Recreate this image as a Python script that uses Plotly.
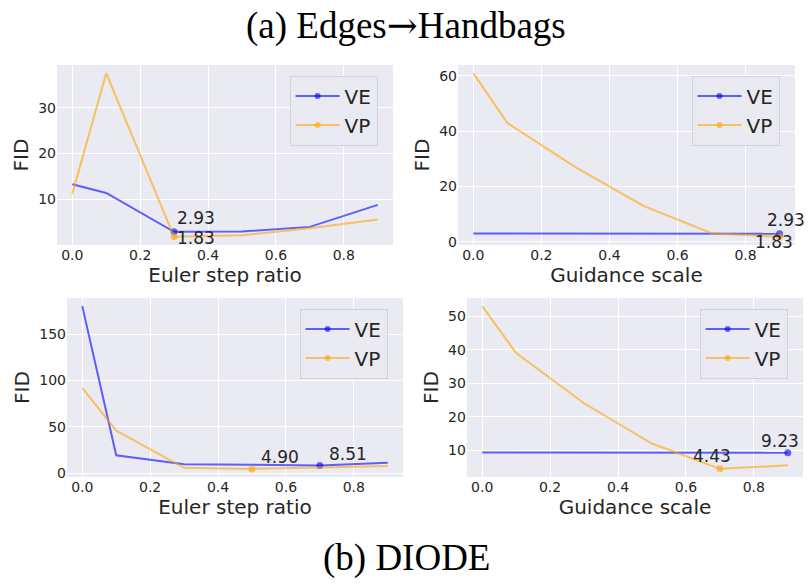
import plotly.graph_objects as go

# === Datos ===
x_ratio = [0.0, 0.1, 0.3, 0.5, 0.7, 0.9]
x_scale = [0.0, 0.1, 0.3, 0.5, 0.7, 0.9]

# (a) Edges->Handbags
a_euler_ve = [13.3, 11.4, 2.93, 3.0, 4.0, 8.8]
a_euler_vp = [11.2, 37.5, 1.83, 2.2, 3.7, 5.6]
a_guid_ve = [3.0, 3.0, 3.0, 3.0, 3.0, 2.93]
a_guid_vp = [61.0, 43.0, 27.0, 13.0, 3.1, 1.83]

# (b) DIODE
b_euler_ve = [180.0, 19.5, 10.0, 9.5, 8.51, 11.5]
b_euler_vp = [92.0, 46.0, 6.0, 4.90, 6.5, 8.0]
b_guid_ve = [9.3, 9.3, 9.3, 9.35, 9.4, 9.23]
b_guid_vp = [53.0, 39.0, 24.0, 12.0, 4.43, 5.5]

BLUE = "rgba(0,0,255,0.6)"
ORANGE = "rgba(255,165,0,0.6)"
TXT = "#262626"
BG = "#EAEAF2"

paneles = [
    # x, ve, vp, xlabel, yrange, yticks, domx, domy
    (x_ratio, a_euler_ve, a_euler_vp, "Euler step ratio", [0.05, 39.3], [10, 20, 30],
     [0.0702, 0.484], [0.5805, 0.8887]),
    (x_scale, a_guid_ve, a_guid_vp, "Guidance scale", [-1.13, 63.96], [0, 20, 40, 60],
     [0.564, 0.979], [0.5805, 0.8887]),
    (x_ratio, b_euler_ve, b_euler_vp, "Euler step ratio", [-3.85, 188.75], [0, 50, 100, 150],
     [0.0825, 0.4963], [0.1832, 0.4897]),
    (x_scale, b_guid_ve, b_guid_vp, "Guidance scale", [2.0, 55.4], [10, 20, 30, 40, 50],
     [0.575, 0.989], [0.1832, 0.4897]),
]

# (panel, serie, xshift, yshift, xanchor)
etiquetas = [
    (0, "ve", 1, 14, "left"), (0, "vp", 1, -1, "left"),
    (1, "ve", 6, 14, "center"), (1, "vp", -6, -5, "center"),
    (2, "vp", 7, 12, "left"), (2, "ve", 7, 12, "left"),
    (3, "vp", -8, 13, "center"), (3, "ve", -8, 12, "center"),
]

fig = go.Figure()
layout = {}
for i, (xs, ve, vp, xlab, yr, yt, dx, dy) in enumerate(paneles):
    n = "" if i == 0 else str(i + 1)
    leg = "legend" + n
    for nombre, ys, col in (("VE", ve, BLUE), ("VP", vp, ORANGE)):
        best = ys.index(min(ys))
        fig.add_trace(go.Scatter(
            x=xs, y=ys, mode="lines", name=nombre,
            line=dict(color=col, width=2),
            xaxis="x" + n, yaxis="y" + n, showlegend=False,
        ))
        fig.add_trace(go.Scatter(
            x=[xs[best]], y=[ys[best]], mode="markers", name=nombre,
            marker=dict(color=col, size=7),
            xaxis="x" + n, yaxis="y" + n, showlegend=False,
        ))
        # entrada de leyenda
        fig.add_trace(go.Scatter(
            x=[None], y=[None], mode="lines+markers", name=nombre,
            line=dict(color=col, width=2), marker=dict(color=col, size=6),
            xaxis="x" + n, yaxis="y" + n, legend=leg,
        ))
    layout["xaxis" + n] = dict(
        domain=dx, anchor="y" + n, range=[-0.045, 0.945], automargin=False,
        tickvals=[0, 0.2, 0.4, 0.6, 0.8], ticktext=["0.0", "0.2", "0.4", "0.6", "0.8"],
        title=dict(text=xlab, font=dict(size=20, color=TXT), standoff=2),
        showgrid=True, gridcolor="white", gridwidth=1, zeroline=False,
        tickfont=dict(size=14, color=TXT), ticks="", showline=False,
    )
    layout["yaxis" + n] = dict(
        domain=dy, anchor="x" + n, range=yr, tickvals=yt, automargin=False,
        title=dict(text="FID", font=dict(size=20, color=TXT), standoff=4),
        showgrid=True, gridcolor="white", gridwidth=1, zeroline=False,
        tickfont=dict(size=14, color=TXT), ticks="", showline=False,
    )
    layout[leg] = dict(
        x=dx[1] - 0.019, y=dy[1] - 0.018, xanchor="right", yanchor="top",
        bgcolor=BG, bordercolor="#D2D2DA", borderwidth=1,
        font=dict(size=20, color=TXT), itemwidth=44,
    )

for p, serie, xs_, ys_, xa in etiquetas:
    xs, ve, vp = paneles[p][0], paneles[p][1], paneles[p][2]
    ys = ve if serie == "ve" else vp
    best = ys.index(min(ys))
    n = "" if p == 0 else str(p + 1)
    fig.add_annotation(
        x=xs[best], y=ys[best], xref="x" + n, yref="y" + n,
        text=f"{ys[best]:.2f}", showarrow=False,
        xanchor=xa, yanchor="middle", xshift=xs_, yshift=ys_,
        font=dict(size=17, color=TXT),
    )

flecha = '<span style="font-family:DejaVu Serif">\u2192</span>'
for texto, ypos in (("(a) Edges" + flecha + "Handbags", 1 - 25 / 584), ("(b) DIODE", 1 - 558 / 584)):
    fig.add_annotation(
        x=0.5, y=ypos, xref="paper", yref="paper", text=texto, showarrow=False,
        xanchor="center", yanchor="middle",
        font=dict(family="Liberation Serif", size=37, color="black"),
    )

fig.update_layout(
    width=812, height=584,
    margin=dict(l=0, r=0, t=0, b=0),
    paper_bgcolor="white", plot_bgcolor=BG,
    font=dict(family="DejaVu Sans", color=TXT),
    **layout,
)

# quitar el margen del body para que la figura ocupe toda la ventana
fig.write_html("out.html", config={"displayModeBar": False},
               post_script="document.body.style.margin='0';")
